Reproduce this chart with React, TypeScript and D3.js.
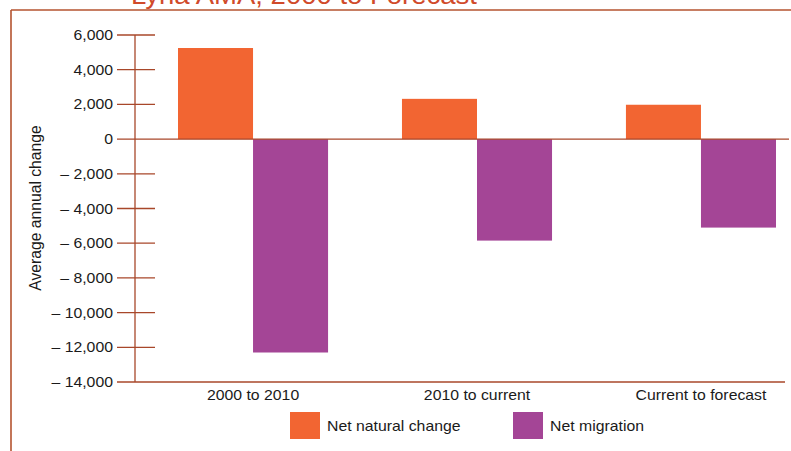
import React from "react";
import * as d3 from "d3";

const categories = ["2000 to 2010", "2010 to current", "Current to forecast"];
const seriesNames = ["Net natural change", "Net migration"];
const naturalChange = [5250, 2320, 1980];
const netMigration = [-12300, -5850, -5100];
const yTicks = [6000, 4000, 2000, 0, -2000, -4000, -6000, -8000, -10000, -12000, -14000];
const colors = ["#f26532", "#a44596"];

const W = 791;
const H = 451;
const FONT = "'Liberation Sans', Arial, Helvetica, sans-serif";
const AX = "#a8472a";

function fmt(v: number) {
  if (v === 0) return "0";
  const s = d3.format(",")(Math.abs(v));
  return v < 0 ? "\u2013 " + s : s;
}

export default function App() {
  const y = d3.scaleLinear().domain([-14000, 6000]).range([382, 35]);
  const x0 = d3
    .scaleBand<string>()
    .domain(categories)
    .range([135, 819])
    .paddingInner(0.33)
    .paddingOuter(0.192);
  const x1 = d3.scaleBand<string>().domain(seriesNames).range([0, x0.bandwidth()]);
  const values = [naturalChange, netMigration];
  const axisX = 135;

  const T = (x: number, yy: number, s: string, anchor: string, extra: any = {}) => (
    <text
      transform={`translate(${x},${yy}) scale(1.13,1)`}
      textAnchor={anchor}
      fontFamily={FONT}
      fontSize={14}
      fill="#1a1a1a"
      {...extra}
    >
      {s}
    </text>
  );

  return (
    <svg width={W} height={H} style={{ position: "absolute", left: 0, top: 0, background: "#fff" }}>
      <text x={131} y={4} fontFamily={FONT} fontSize={25} fill="#d04a2a" textLength={346} lengthAdjust="spacingAndGlyphs">
        Lyria AMA, 2000 to Forecast
      </text>
      {/* frame */}
      <line x1={11} x2={W} y1={10} y2={10} stroke="#b4532f" strokeWidth={1.6} />
      <line x1={11} x2={11} y1={10} y2={H} stroke="#b4532f" strokeWidth={1.6} />

      {/* bars */}
      {categories.map((c, i) =>
        seriesNames.map((s, j) => {
          const v = values[j][i];
          const bx = (x0(c) as number) + (x1(s) as number);
          return (
            <rect
              key={c + s}
              x={bx}
              y={y(Math.max(0, v))}
              width={x1.bandwidth()}
              height={Math.abs(y(v) - y(0))}
              fill={colors[j]}
            />
          );
        })
      )}

      {/* axis */}
      <line x1={axisX} x2={axisX} y1={y(6000)} y2={y(-14000)} stroke={AX} strokeWidth={1.3} />
      {yTicks.map((t) => (
        <g key={t}>
          <line
            x1={117}
            x2={t === 0 ? 789 : t === -14000 ? 785 : 155}
            y1={y(t)}
            y2={y(t)}
            stroke={AX}
            strokeWidth={1.3}
          />
          {T(113, y(t) + 5, fmt(t), "end")}
        </g>
      ))}

      {/* category labels */}
      {categories.map((c) => (
        <g key={c}>{T((x0(c) as number) + x0.bandwidth() / 2, 400, c, "middle")}</g>
      ))}

      {/* y label */}
      <text
        transform={`translate(41,208) rotate(-90)`}
        textAnchor="middle"
        fontFamily={FONT}
        fontSize={15.7}
        fill="#1a1a1a"
      >
        Average annual change
      </text>

      {/* legend */}
      {seriesNames.map((s, j) => {
        const lx = j === 0 ? 290 : 513;
        return (
          <g key={s}>
            <rect x={lx} y={412} width={30} height={27} fill={colors[j]} />
            {T(lx + 37, 431, s, "start")}
          </g>
        );
      })}
    </svg>
  );
}
